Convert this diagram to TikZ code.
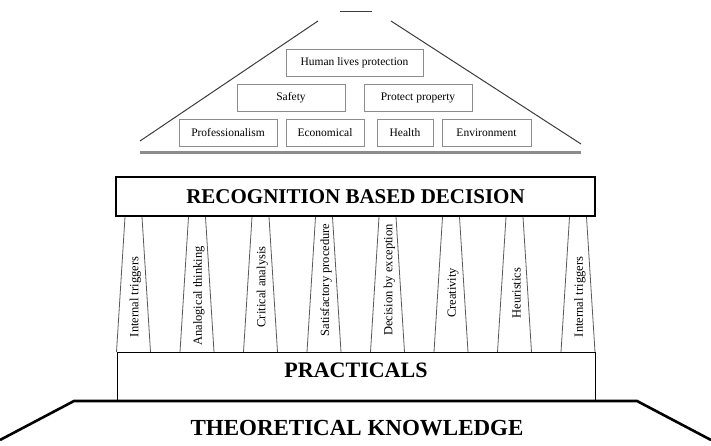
\documentclass[tikz,border=0pt]{standalone}
\usepackage{fontspec}
\setmainfont{Liberation Serif}
\usetikzlibrary{positioning}
\definecolor{roofgray}{RGB}{60,60,60}
\definecolor{boxgray}{RGB}{140,140,140}
\definecolor{pillargray}{RGB}{90,90,90}
\tikzset{
    % value boxes under the roof
    valuebox/.style={
        draw=boxgray, line width=0.8pt, inner sep=0pt,
        minimum height=27pt, font=\fontsize{11.5}{12}\selectfont
    },
    % wide bars of the house
    beambox/.style={
        draw=black, line width=2.2pt, inner sep=0pt,
        minimum width=479pt, minimum height=39pt,
        font=\fontsize{21}{23}\selectfont\bfseries
    },
    floorbox/.style={
        draw=black, line width=0.8pt, inner sep=0pt,
        minimum width=478pt, minimum height=49pt,
        text height=15pt, text depth=13pt,
        font=\fontsize{22}{24}\selectfont\bfseries
    },
    % pillar sides and labels
    pillarside/.style={line width=0.8pt, pillargray},
    pillarlabel/.style={rotate=90, inner sep=0pt, font=\fontsize{12.5}{13}\selectfont},
    % roof and ground lines
    roofline/.style={line width=1pt, roofgray},
    roofbase/.style={line width=3pt, boxgray},
    groundline/.style={line width=2.6pt, black},
}
\begin{document}
\begin{tikzpicture}[x=1pt,y=-1pt]
  \useasboundingbox (0,0) rectangle (711,446);
  % roof
  \coordinate (ridge l) at (340,11.5);
  \coordinate (ridge r) at (372,11.5);
  \coordinate (roof l) at (318,21);
  \coordinate (roof r) at (391,21);
  \coordinate (eave l) at (140,141);
  \coordinate (eave r) at (581,144);
  \coordinate (base l) at (140,153);
  \coordinate (base r) at (581,153);
  \draw[roofline] (ridge l) -- (ridge r);
  \draw[roofline] (roof l) -- (eave l);
  \draw[roofline] (roof r) -- (eave r);
  \draw[roofbase] (base l) -- (base r);
  \node[valuebox,minimum width=137pt] (human) at (354.5,62.5) {Human lives protection};
  \node[valuebox,minimum width=108pt] (safety) at (291,97.5) {Safety};
  \node[valuebox,minimum width=108pt] (property) at (418,97.5) {Protect property};
  \node[valuebox,minimum width=98pt] (prof) at (228,132.5) {Professionalism};
  \node[valuebox,minimum width=78pt] (econ) at (325,132.5) {Economical};
  \node[valuebox,minimum width=56pt] (health) at (405,132.5) {Health};
  \node[valuebox,minimum width=89pt] (env) at (486.5,132.5) {Environment};
  % decision beam
  \node[beambox] (rbd) at (355.5,196.5) {RECOGNITION BASED DECISION};
  % pillars
  \foreach \c/\ym/\txt [count=\i] in {133.5/297/Internal triggers, 197/296/Analogical thinking,
      260.5/287/Critical analysis, 324/280/Satisfactory procedure, 387.5/280/Decision by exception,
      451/293/Creativity, 514.5/293/Heuristics, 578/297/Internal triggers}{
    \coordinate (pil\i tl) at (\c-8.5,217);
    \coordinate (pil\i tr) at (\c+8.5,217);
    \coordinate (pil\i bl) at (\c-17,352);
    \coordinate (pil\i br) at (\c+17,352);
    \draw[pillarside] (pil\i tl) -- (pil\i bl);
    \draw[pillarside] (pil\i tr) -- (pil\i br);
    \node[pillarlabel] (pil\i) at (\c+2,\ym) {\txt};
  }
  % floor
  \node[floorbox] (prac) at (356,376.5) {PRACTICALS};
  % ground
  \coordinate (gnd l) at (0,440);
  \coordinate (gnd tl) at (74,401);
  \coordinate (gnd tr) at (637,401);
  \coordinate (gnd r) at (711,440);
  \draw[groundline] (gnd l) -- (gnd tl) -- (gnd tr) -- (gnd r);
  \node[font=\fontsize{23}{25}\selectfont\bfseries] (theory) at (357,428) {THEORETICAL KNOWLEDGE};
\end{tikzpicture}
\end{document}
